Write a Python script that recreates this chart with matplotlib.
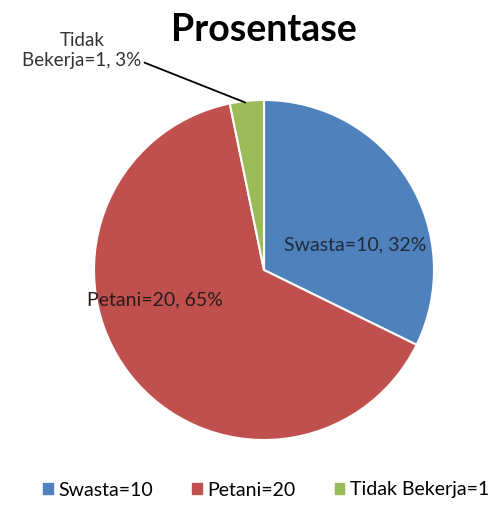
import matplotlib.pyplot as plt

labels = ['Swasta', 'Petani', 'Tidak Bekerja']
values = [10, 20, 1]
colors = ['#4F81BD', '#C0504D', '#9BBB59']

plt.rcParams['font.family'] = ['Lato', 'DejaVu Sans']

fig = plt.figure(figsize=(4.93, 5.16), dpi=100)
W, H = 493, 516
cx, cy, r = 264, 270, 170
ax = fig.add_axes([(cx - r) / W, (H - cy - r) / H, 2 * r / W, 2 * r / H])

total = sum(values)
wedges, _ = ax.pie(values, colors=colors, startangle=90, counterclock=False,
                   radius=1, wedgeprops=dict(edgecolor='white', linewidth=1.5))
ax.set_xlim(-1, 1)
ax.set_ylim(-1, 1)
ax.axis('off')

pct = [round(v / total * 100) for v in values]
ax.text(0.535, 0.147, f'{labels[0]}={values[0]}, {pct[0]}%', ha='center', va='center',
        fontsize=14, color='#1F2A3A')
ax.text(-0.64, -0.176, f'{labels[1]}={values[1]}, {pct[1]}%', ha='center', va='center',
        fontsize=14, color='#2A1A1A')
ax.annotate('Tidak\nBekerja=' + f'{values[2]}, {pct[2]}%', xy=(-0.11, 0.985),
            xytext=(-1.07, 1.29), ha='center', va='center', multialignment='center',
            fontsize=13.5, color='#333333', annotation_clip=False,
            arrowprops=dict(arrowstyle='-', color='black', lw=1.3, shrinkA=0, shrinkB=0,
                            relpos=(1.02, 0.18)))

fig.text(cx / W, 1 - 30 / H, 'Prosentase', ha='center', va='center',
         fontsize=27, fontweight='bold')

handles = [plt.Rectangle((0, 0), 1, 1, color=c) for c in colors]
leg_labels = [f'{l}={v}' for l, v in zip(labels, values)]
fig.legend(handles, leg_labels, loc='center', bbox_to_anchor=(0.54, 1 - 490 / H),
           ncol=3, frameon=False, fontsize=14, handlelength=0.5, handleheight=0.5,
           handletextpad=0.3, columnspacing=2.0)

fig.savefig('out.png', dpi=100)
